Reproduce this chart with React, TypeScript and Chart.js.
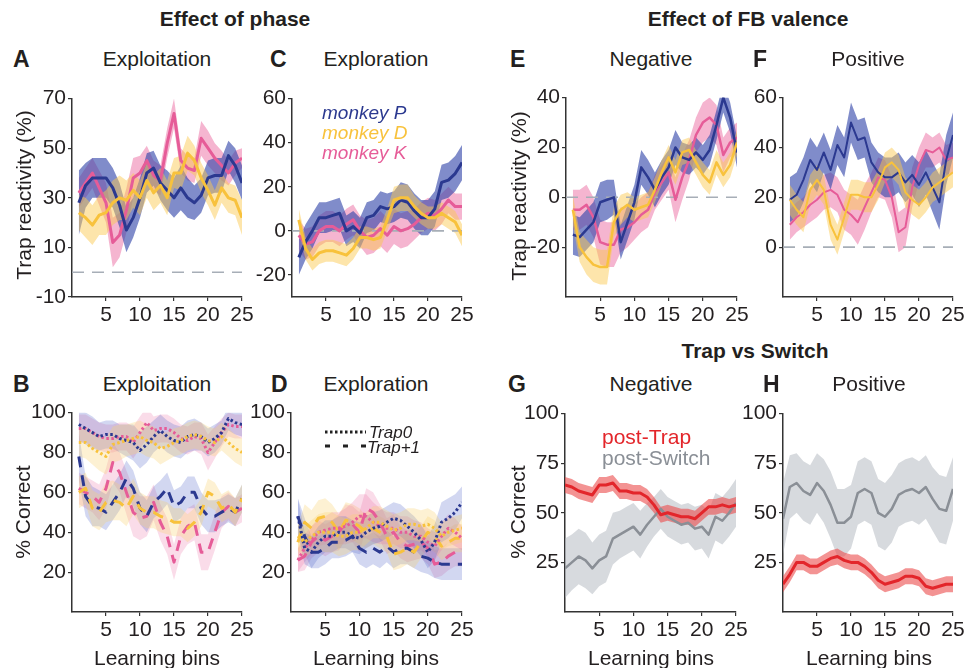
import React, { useEffect, useRef } from 'react';
import { Chart, registerables } from 'chart.js';
Chart.register(...registerables);

const FONT = '"Liberation Sans", Arial, Helvetica, sans-serif';
const TXT = '#231f20';

// ---------- categories / ticks ----------
const BINS = [1, 2, 3, 4, 5, 6, 7, 8, 9, 10, 11, 12, 13, 14, 15, 16, 17, 18, 19, 20, 21, 22, 23, 24, 25];
const BINS0 = [0, 1, 2, 3, 4, 5, 6, 7, 8, 9, 10, 11, 12, 13, 14, 15, 16, 17, 18, 19, 20, 21, 22, 23, 24, 25];
const X_TICKS = [5, 10, 15, 20, 25];
const A_TICKS = [-10, 10, 30, 50, 70];
const C_TICKS = [-20, 0, 20, 40, 60];
const E_TICKS = [-20, 0, 20, 40];
const F_TICKS = [0, 20, 40, 60];
const BD_TICKS = [20, 40, 60, 80, 100];
const GH_TICKS = [25, 50, 75, 100];

// ---------- Panel A: Exploitation, trap reactivity ----------
const A_P = [28, 35, 38, 38, 38, 34, 27, 17, 22, 30, 40, 42, 36, 33, 30, 34, 30, 28, 31, 38, 39, 39, 47, 43, 36];
const A_P_E = [13, 9, 8, 8, 8, 8, 9, 9, 8, 8, 8, 7, 7, 8, 8, 9, 8, 7, 7, 7, 7, 7, 6, 7, 7];
const A_K = [32, 36, 40, 34, 28, 12, 15, 25, 38, 40, 45, 39, 37, 52, 64, 45, 42, 41, 54, 50, 46, 43, 40, 44, 46];
const A_K_E = [6, 6, 6, 7, 8, 10, 9, 9, 8, 7, 6, 6, 6, 6, 6, 5, 5, 5, 7, 7, 6, 6, 5, 5, 4];
const A_D = [24, 22, 19, 23, 24, 28, 30, 29, 33, 30, 37, 32, 35, 30, 40, 40, 48, 45, 38, 33, 27, 34, 30, 29, 22];
const A_D_E = [7, 8, 8, 8, 9, 9, 9, 8, 7, 7, 7, 7, 7, 7, 6, 7, 7, 6, 6, 6, 6, 6, 6, 6, 7];

// ---------- Panel C: Exploration, trap reactivity ----------
const C_P = [-12, -5, 0, 6, 6, 7, 8, 0, 2, -1, 6, 7, 11, 10, 11, 14, 13, 9, 6, 6, 10, 22, 23, 26, 31];
const C_P_E = [8, 8, 8, 7, 7, 7, 7, 7, 7, 7, 7, 7, 7, 7, 7, 8, 8, 8, 8, 8, 8, 8, 8, 8, 8];
const C_D = [5, -8, -13, -10, -9, -9, -10, -11, -8, -3, -3, -4, -3, 5, 14, 15, 15, 11, 8, 6, 6, 8, 6, 4, -2];
const C_D_E = [5, 5, 5, 5, 5, 5, 5, 5, 5, 5, 5, 5, 5, 5, 6, 6, 6, 5, 5, 5, 5, 5, 5, 5, 5];
const C_K = [-2, -6, -5, 0, 2, 2, 0, 3, 5, 0, -3, -2, 1, -2, 2, 0, 1, 3, 6, 8, 7, 10, 14, 11, 11];
const C_K_E = [7, 7, 7, 7, 7, 7, 7, 7, 7, 7, 8, 8, 8, 8, 8, 8, 8, 7, 7, 7, 7, 7, 6, 6, 6];

// ---------- Panel E: Negative FB, trap reactivity ----------
const E_P = [-15, -16, -13, -10, -2, -1, 0, -18, -10, -2, 12, 8, 3, 8, 12, 20, 16, 15, 18, 15, 19, 29, 40, 32, 18];
const E_P_E = [8, 8, 8, 8, 8, 8, 7, 7, 7, 7, 7, 7, 7, 7, 7, 7, 6, 6, 6, 6, 6, 6, 6, 6, 6];
const E_K = [-5, -5, -3, -8, -18, -19, -19, -13, -12, -10, -7, -5, 2, 6, 10, -1, 8, 15, 25, 30, 32, 29, 17, 22, 24];
const E_K_E = [8, 8, 8, 8, 9, 9, 9, 9, 8, 7, 7, 7, 7, 7, 7, 9, 9, 8, 7, 8, 8, 8, 7, 6, 6];
const E_D = [-5, -20, -24, -27, -28, -28, -10, -5, -3, -5, -4, -3, 3, 10, 16, 10, 18, 19, 14, 9, 6, 14, 9, 13, 22];
const E_D_E = [6, 6, 7, 7, 7, 7, 6, 6, 5, 5, 5, 5, 5, 5, 5, 5, 5, 5, 5, 5, 5, 5, 5, 5, 5];

// ---------- Panel F: Positive FB, trap reactivity ----------
const F_P = [19, 21, 27, 35, 31, 38, 31, 41, 36, 50, 43, 44, 34, 30, 28, 28, 30, 26, 29, 25, 30, 24, 18, 35, 45];
const F_P_E = [9, 9, 9, 9, 9, 8, 8, 8, 8, 8, 8, 8, 8, 8, 8, 8, 8, 8, 8, 9, 9, 10, 11, 10, 9];
const F_K = [9, 12, 14, 17, 19, 22, 23, 21, 15, 13, 10, 16, 22, 28, 27, 20, 6, 8, 24, 33, 39, 38, 40, 35, 36];
const F_K_E = [6, 6, 6, 7, 7, 7, 7, 7, 8, 8, 9, 9, 8, 8, 8, 8, 8, 8, 8, 7, 7, 6, 6, 6, 6];
const F_D = [19, 15, 12, 23, 27, 23, 9, 3, 12, 21, 21, 20, 20, 25, 32, 34, 31, 22, 19, 17, 20, 24, 26, 28, 30];
const F_D_E = [6, 6, 6, 6, 6, 6, 6, 6, 6, 6, 6, 6, 6, 6, 6, 6, 6, 6, 6, 6, 6, 6, 6, 6, 6];

// ---------- Panel B: Exploitation, % correct ----------
const B_P0 = [94, 92, 90, 88, 89, 89, 87, 86, 85, 81, 84, 88, 91, 88, 86, 85, 88, 89, 88, 85, 87, 90, 97, 95, 94];
const B_P0_E = [8, 8, 8, 7, 7, 7, 7, 8, 9, 9, 9, 8, 8, 8, 8, 8, 8, 8, 7, 7, 7, 6, 6, 6, 6];
const B_K0 = [92, 92, 90, 88, 87, 87, 88, 88, 85, 90, 95, 91, 92, 92, 90, 87, 86, 88, 87, 80, 85, 90, 94, 93, 93];
const B_K0_E = [7, 7, 7, 7, 7, 7, 7, 7, 8, 8, 8, 7, 7, 7, 7, 7, 7, 7, 8, 9, 8, 7, 6, 6, 6];
const B_D0 = [85, 85, 82, 80, 78, 84, 85, 86, 87, 88, 86, 85, 82, 83, 85, 86, 88, 89, 88, 86, 85, 88, 85, 82, 80];
const B_D0_E = [7, 8, 8, 9, 9, 9, 9, 8, 8, 8, 8, 8, 8, 7, 7, 7, 7, 7, 7, 7, 7, 7, 7, 7, 7];
const B_P1 = [78, 58, 53, 52, 50, 55, 60, 67, 62, 52, 48, 55, 58, 62, 53, 55, 60, 60, 52, 48, 48, 50, 52, 50, 57];
const B_P1_E = [12, 10, 10, 9, 9, 9, 9, 9, 9, 8, 8, 8, 8, 8, 8, 8, 8, 8, 8, 8, 8, 7, 7, 7, 7];
const B_K1 = [62, 60, 58, 55, 62, 75, 70, 60, 50, 47, 48, 55, 45, 38, 25, 38, 43, 45, 30, 30, 40, 50, 53, 50, 52];
const B_K1_E = [8, 8, 8, 9, 10, 10, 10, 11, 12, 11, 10, 9, 9, 9, 9, 9, 9, 9, 9, 9, 9, 8, 7, 7, 7];
const B_D1 = [60, 62, 52, 50, 55, 56, 55, 52, 58, 52, 50, 50, 48, 47, 45, 45, 42, 45, 50, 60, 58, 52, 54, 50, 57];
const B_D1_E = [8, 8, 9, 9, 10, 10, 9, 9, 9, 8, 8, 8, 8, 8, 7, 7, 7, 7, 7, 7, 7, 7, 7, 7, 7];

// ---------- Panel D: Exploration, % correct ----------
const D_P0 = [48, 32, 30, 35, 38, 38, 40, 40, 38, 37, 40, 42, 43, 45, 47, 46, 43, 40, 36, 30, 35, 45, 47, 50, 55];
const D_P0_E = [9, 8, 8, 8, 8, 8, 8, 8, 8, 8, 8, 8, 8, 8, 8, 8, 8, 8, 8, 8, 9, 10, 10, 9, 8];
const D_K0 = [26, 32, 36, 40, 41, 42, 42, 43, 45, 48, 48, 45, 43, 42, 42, 40, 40, 38, 38, 35, 33, 38, 42, 40, 37];
const D_K0_E = [6, 7, 7, 7, 7, 8, 8, 9, 10, 11, 11, 10, 9, 8, 8, 8, 8, 8, 7, 7, 7, 7, 7, 7, 6];
const D_D0 = [38, 35, 38, 40, 40, 40, 38, 38, 40, 40, 42, 45, 45, 43, 41, 42, 44, 44, 43, 44, 42, 38, 40, 41, 42];
const D_D0_E = [7, 8, 8, 9, 10, 10, 10, 9, 9, 9, 8, 8, 8, 8, 8, 8, 8, 8, 8, 8, 8, 7, 7, 7, 7];
const D_P1 = [48, 38, 30, 30, 32, 35, 35, 36, 38, 32, 30, 32, 30, 33, 30, 32, 32, 30, 28, 27, 25, 24, 24, 24, 24];
const D_P1_E = [9, 9, 8, 8, 8, 8, 8, 8, 8, 8, 8, 8, 8, 8, 8, 8, 8, 8, 8, 8, 8, 8, 8, 8, 8];
const D_K1 = [26, 28, 35, 38, 36, 38, 40, 45, 44, 40, 52, 50, 45, 38, 40, 35, 33, 34, 35, 32, 24, 25, 28, 30, 30];
const D_K1_E = [6, 7, 8, 8, 8, 8, 9, 9, 9, 10, 10, 10, 9, 9, 9, 8, 8, 8, 8, 8, 7, 7, 7, 7, 7];
const D_D1 = [35, 45, 42, 47, 48, 45, 40, 46, 45, 43, 40, 42, 40, 38, 29, 30, 32, 30, 35, 40, 38, 33, 35, 37, 37];
const D_D1_E = [8, 9, 9, 9, 9, 9, 9, 9, 9, 9, 8, 8, 8, 8, 8, 8, 8, 8, 8, 8, 8, 7, 7, 7, 7];

// ---------- Panel G / H: post-Trap vs post-Switch ----------
const G_TRAP = [64, 63, 61, 60, 59, 64, 64, 65, 61, 61, 60, 60, 58, 54, 49, 50, 49, 48, 48, 47, 50, 53, 53, 54, 53, 54];
const G_TRAP_E = [4, 4, 4, 4, 4, 4, 4, 4, 4, 4, 4, 4, 4, 4, 4, 4, 4, 4, 4, 4, 4, 4, 4, 4, 4, 4];
const G_SW = [22, 25, 28, 26, 22, 26, 28, 37, 39, 41, 43, 39, 44, 48, 52, 48, 46, 44, 45, 42, 43, 39, 48, 46, 50, 55];
const G_SW_E = [15, 14, 14, 14, 13, 13, 13, 13, 12, 12, 12, 12, 11, 10, 10, 10, 10, 10, 10, 11, 11, 12, 12, 12, 12, 12];
const H_TRAP = [14, 19, 25, 25, 23, 23, 25, 27, 28, 26, 25, 25, 23, 20, 16, 14, 15, 16, 18, 18, 17, 13, 12, 13, 14, 14];
const H_TRAP_E = [4, 4, 4, 4, 4, 4, 4, 4, 4, 4, 4, 4, 4, 4, 4, 4, 4, 4, 4, 4, 4, 4, 4, 4, 4, 4];
const H_SW = [47, 63, 65, 61, 59, 65, 61, 54, 45, 45, 48, 60, 62, 60, 50, 48, 52, 59, 61, 62, 60, 63, 57, 52, 51, 62];
const H_SW_E = [18, 16, 15, 15, 15, 15, 16, 17, 17, 17, 16, 16, 16, 16, 17, 17, 17, 16, 16, 16, 16, 16, 16, 17, 17, 16];

// ---------- colours ----------
const P_LINE = '#2B3990';
const D_LINE = '#F8C23C';
const K_LINE = '#E65C98';
const P_BAND = 'rgba(50,70,170,0.62)';
const D_BAND = 'rgba(250,200,80,0.48)';
const K_BAND = 'rgba(232,90,150,0.45)';
const P_BAND2 = 'rgba(80,100,200,0.26)';
const D_BAND2 = 'rgba(250,210,110,0.3)';
const K_BAND2 = 'rgba(235,110,165,0.24)';
const RED_LINE = '#E3262B';
const RED_BAND = 'rgba(236,80,80,0.62)';
const GREY_LINE = '#8A8F96';
const GREY_BAND = 'rgba(175,181,189,0.5)';
const ZERO = '#A7AEB7';

const YW = 60;
const XH = 40;
const PT = 14;
const PR = 16;

type Series = { x: number[]; y: number[]; e: number[]; line: string; band: string; width: number; dash?: number[] };

function buildDatasets(series: Series[], zero: boolean) {
  const ds: any[] = [];
  series.forEach((s) => {
    ds.push({
      data: s.x.map((x, i) => ({ x, y: s.y[i] - s.e[i] })),
      borderWidth: 0, borderColor: 'rgba(0,0,0,0)', pointRadius: 0, fill: false, order: 10,
    });
    ds.push({
      data: s.x.map((x, i) => ({ x, y: s.y[i] + s.e[i] })),
      borderWidth: 0, borderColor: 'rgba(0,0,0,0)', pointRadius: 0, fill: '-1',
      backgroundColor: s.band, order: 10,
    });
  });
  if (zero) {
    ds.push({
      data: [{ x: 0, y: 0 }, { x: 25, y: 0 }],
      borderColor: ZERO, borderWidth: 1.6, borderDash: [12, 8], pointRadius: 0, fill: false, order: 5,
    });
  }
  series.forEach((s) => {
    ds.push({
      data: s.x.map((x, i) => ({ x, y: s.y[i] })),
      borderColor: s.line, borderWidth: s.width, borderDash: s.dash || [], pointRadius: 0,
      fill: false, order: 0, borderCapStyle: 'butt', borderJoinStyle: 'round',
    });
  });
  return ds;
}

type PanelProps = {
  l: number; r: number; t: number; b: number;
  yMin: number; yMax: number; yTicks: number[];
  series: Series[]; zero?: boolean;
};

function Panel({ l, r, t, b, yMin, yMax, yTicks, series, zero }: PanelProps) {
  const ref = useRef<HTMLCanvasElement>(null);
  const w = YW + (r - l) + PR;
  const h = PT + (b - t) + XH;
  useEffect(() => {
    const axisCommon = {
      grid: { display: true, drawOnChartArea: false, drawTicks: true, tickLength: 4, color: '#333', lineWidth: 1.2 },
      border: { display: true, color: '#333', width: 1.5 },
      ticks: { font: { family: FONT, size: 21 }, color: TXT, autoSkip: false, maxRotation: 0 },
    };
    const chart = new Chart(ref.current as HTMLCanvasElement, {
      type: 'line',
      data: { datasets: buildDatasets(series, !!zero) },
      options: {
        responsive: false,
        animation: false,
        devicePixelRatio: 1,
        layout: { padding: { top: PT, right: PR, left: 0, bottom: 0 } },
        plugins: { legend: { display: false }, tooltip: { enabled: false }, title: { display: false } },
        scales: {
          x: {
            ...axisCommon,
            type: 'linear', min: 0, max: 25,
            ticks: { ...axisCommon.ticks, padding: 2 },
            afterBuildTicks: (s: any) => { s.ticks = X_TICKS.map((v) => ({ value: v })); },
            afterFit: (s: any) => { s.height = XH; },
          },
          y: {
            ...axisCommon,
            type: 'linear', min: yMin, max: yMax,
            ticks: { ...axisCommon.ticks, padding: 2 },
            afterBuildTicks: (s: any) => { s.ticks = yTicks.map((v) => ({ value: v })); },
            afterFit: (s: any) => { s.width = YW; },
          },
        },
      } as any,
    });
    return () => chart.destroy();
  }, []);
  return (
    <canvas
      ref={ref}
      width={w}
      height={h}
      style={{ position: 'absolute', left: l - YW, top: t - PT, width: w, height: h }}
    />
  );
}

function Txt({ x, y, children, size = 21, bold = false, italic = false, color = TXT, align = 'center', rotate = false }: any) {
  const tx = align === 'center' ? '-50%' : '0';
  return (
    <div
      style={{
        position: 'absolute', left: x, top: y, whiteSpace: 'nowrap',
        fontFamily: FONT, fontSize: size, fontWeight: bold ? 'bold' : 'normal',
        fontStyle: italic ? 'italic' : 'normal', color, lineHeight: 1,
        transform: rotate ? 'translate(-50%,-50%) rotate(-90deg)' : `translate(${tx},-50%)`,
      }}
    >
      {children}
    </div>
  );
}

const mk = (x: number[], y: number[], e: number[], line: string, band: string, width: number, dash?: number[]): Series =>
  ({ x, y, e, line, band, width, dash });

const DOT = [2.5, 2.5];
const DASH = [11, 8];

export default function App() {
  const aSeries = [
    mk(BINS, A_D, A_D_E, D_LINE, D_BAND, 3),
    mk(BINS, A_P, A_P_E, P_LINE, P_BAND, 3),
    mk(BINS, A_K, A_K_E, K_LINE, K_BAND, 3),
  ];
  const cSeries = [
    mk(BINS, C_D, C_D_E, D_LINE, D_BAND, 3),
    mk(BINS, C_P, C_P_E, P_LINE, P_BAND, 3),
    mk(BINS, C_K, C_K_E, K_LINE, K_BAND, 3),
  ];
  const eSeries = [
    mk(BINS, E_D, E_D_E, D_LINE, D_BAND, 2.5),
    mk(BINS, E_P, E_P_E, P_LINE, P_BAND, 2.5),
    mk(BINS, E_K, E_K_E, K_LINE, K_BAND, 2.5),
  ];
  const fSeries = [
    mk(BINS, F_D, F_D_E, D_LINE, D_BAND, 2),
    mk(BINS, F_P, F_P_E, P_LINE, P_BAND, 2),
    mk(BINS, F_K, F_K_E, K_LINE, K_BAND, 2),
  ];
  const bSeries = [
    mk(BINS, B_D0, B_D0_E, D_LINE, D_BAND2, 3, DOT),
    mk(BINS, B_P0, B_P0_E, P_LINE, P_BAND2, 3, DOT),
    mk(BINS, B_K0, B_K0_E, K_LINE, K_BAND2, 3, DOT),
    mk(BINS, B_D1, B_D1_E, D_LINE, D_BAND2, 3, DASH),
    mk(BINS, B_P1, B_P1_E, P_LINE, P_BAND2, 3, DASH),
    mk(BINS, B_K1, B_K1_E, K_LINE, K_BAND2, 3, DASH),
  ];
  const dSeries = [
    mk(BINS, D_D0, D_D0_E, D_LINE, D_BAND2, 3, DOT),
    mk(BINS, D_P0, D_P0_E, P_LINE, P_BAND2, 3, DOT),
    mk(BINS, D_K0, D_K0_E, K_LINE, K_BAND2, 3, DOT),
    mk(BINS, D_D1, D_D1_E, D_LINE, D_BAND2, 3, DASH),
    mk(BINS, D_P1, D_P1_E, P_LINE, P_BAND2, 3, DASH),
    mk(BINS, D_K1, D_K1_E, K_LINE, K_BAND2, 3, DASH),
  ];
  const gSeries = [
    mk(BINS0, G_TRAP, G_TRAP_E, RED_LINE, RED_BAND, 3),
    mk(BINS0, G_SW, G_SW_E, GREY_LINE, GREY_BAND, 2.5),
  ];
  const hSeries = [
    mk(BINS0, H_TRAP, H_TRAP_E, RED_LINE, RED_BAND, 3),
    mk(BINS0, H_SW, H_SW_E, GREY_LINE, GREY_BAND, 2.5),
  ];

  return (
    <div style={{ position: 'fixed', left: 0, top: 0, width: 971, height: 668, background: '#fff', overflow: 'hidden' }}>
      <Panel l={72} r={242} t={98} b={297} yMin={-10} yMax={70} yTicks={A_TICKS} series={aSeries} zero />
      <Panel l={292} r={462} t={98} b={297} yMin={-30} yMax={60} yTicks={C_TICKS} series={cSeries} zero />
      <Panel l={566} r={737} t={97} b={297} yMin={-40} yMax={40} yTicks={E_TICKS} series={eSeries} zero />
      <Panel l={783} r={953} t={97} b={297} yMin={-20} yMax={60} yTicks={F_TICKS} series={fSeries} zero />
      <Panel l={72} r={242} t={412} b={612} yMin={0} yMax={100} yTicks={BD_TICKS} series={bSeries} />
      <Panel l={291} r={462} t={412} b={612} yMin={0} yMax={100} yTicks={BD_TICKS} series={dSeries} />
      <Panel l={565} r={736} t={413} b={612} yMin={0} yMax={100} yTicks={GH_TICKS} series={gSeries} />
      <Panel l={783} r={953} t={413} b={612} yMin={0} yMax={100} yTicks={GH_TICKS} series={hSeries} />

      <Txt x={235} y={18} size={21} bold>Effect of phase</Txt>
      <Txt x={748} y={18} size={21} bold>Effect of FB valence</Txt>
      <Txt x={755} y={350} size={21} bold>Trap vs Switch</Txt>

      <Txt x={13} y={59} size={23} bold align="left">A</Txt>
      <Txt x={270} y={59} size={23} bold align="left">C</Txt>
      <Txt x={510} y={59} size={23} bold align="left">E</Txt>
      <Txt x={753} y={59} size={23} bold align="left">F</Txt>
      <Txt x={13} y={384} size={23} bold align="left">B</Txt>
      <Txt x={271} y={384} size={23} bold align="left">D</Txt>
      <Txt x={508} y={384} size={23} bold align="left">G</Txt>
      <Txt x={763} y={384} size={23} bold align="left">H</Txt>

      <Txt x={157} y={58}>Exploitation</Txt>
      <Txt x={376} y={58}>Exploration</Txt>
      <Txt x={651} y={58}>Negative</Txt>
      <Txt x={868} y={58}>Positive</Txt>
      <Txt x={157} y={383}>Exploitation</Txt>
      <Txt x={376} y={383}>Exploration</Txt>
      <Txt x={651} y={383}>Negative</Txt>
      <Txt x={869} y={383}>Positive</Txt>

      <Txt x={23} y={195} rotate>Trap reactivity (%)</Txt>
      <Txt x={518} y={196} rotate>Trap reactivity (%)</Txt>
      <Txt x={22} y={512} rotate>% Correct</Txt>
      <Txt x={517} y={512} rotate>% Correct</Txt>

      <Txt x={157} y={657}>Learning bins</Txt>
      <Txt x={376} y={657}>Learning bins</Txt>
      <Txt x={651} y={657}>Learning bins</Txt>
      <Txt x={869} y={657}>Learning bins</Txt>

      <Txt x={322} y={112} size={19} italic align="left" color={P_LINE}>monkey P</Txt>
      <Txt x={322} y={132} size={19} italic align="left" color={D_LINE}>monkey D</Txt>
      <Txt x={322} y={152} size={19} italic align="left" color={K_LINE}>monkey K</Txt>

      <svg style={{ position: 'absolute', left: 320, top: 425, width: 50, height: 30 }} width={50} height={30}>
        <line x1={5} y1={7} x2={46} y2={7} stroke="#222" strokeWidth={3} strokeDasharray="2.5 2.5" />
        <line x1={5} y1={21} x2={47} y2={21} stroke="#222" strokeWidth={3} strokeDasharray="5 13" />
      </svg>
      <Txt x={369} y={432} size={17} italic align="left">Trap0</Txt>
      <Txt x={367} y={447} size={17} italic align="left">Trap+1</Txt>

      <Txt x={602} y={436} size={21} align="left" color={RED_LINE}>post-Trap</Txt>
      <Txt x={602} y={457} size={21} align="left" color={GREY_LINE}>post-Switch</Txt>
    </div>
  );
}
